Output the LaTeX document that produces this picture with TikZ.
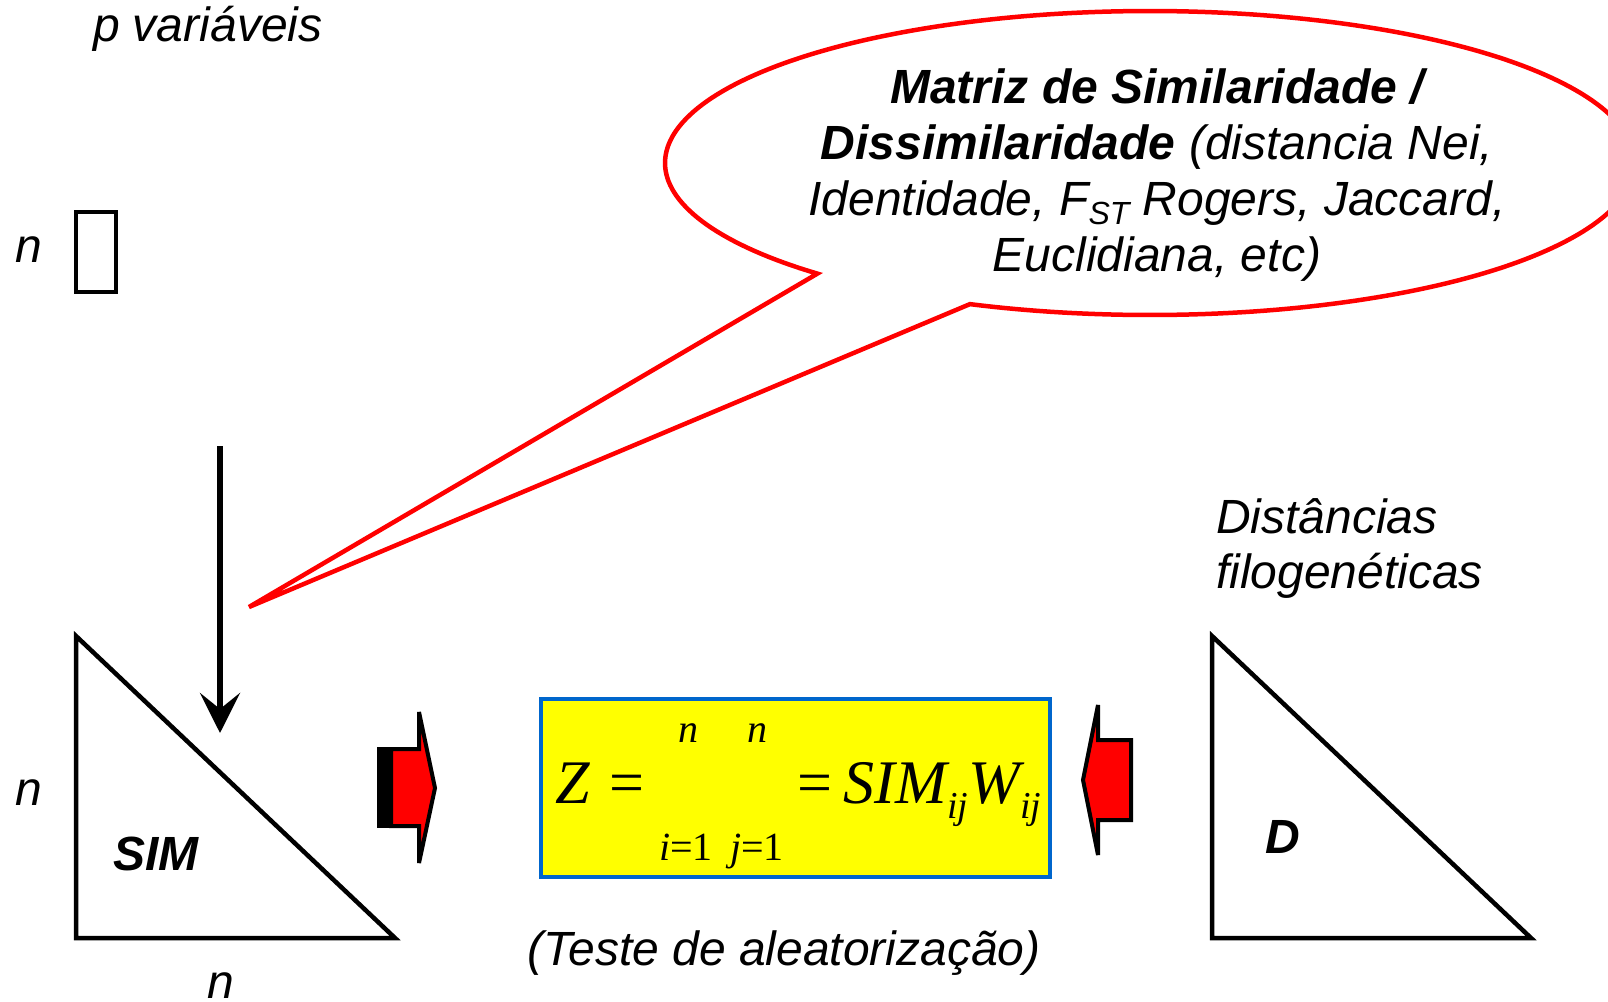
\documentclass[tikz,border=0pt]{standalone}
\usepackage{fontspec}
\setmainfont{Liberation Sans}
\newfontfamily\tms{Liberation Serif}
\usetikzlibrary{arrows.meta}
\definecolor{cred}{RGB}{255,0,0}
\definecolor{cblue}{RGB}{0,102,204}
\definecolor{cyel}{RGB}{255,255,0}
\begin{document}
\begin{tikzpicture}[x=1pt,y=-1pt,
  lbl/.style={inner sep=0pt, outer sep=0pt, font=\fontsize{48}{56}\selectfont\itshape},
  fml/.style={inner sep=0pt, outer sep=0pt, font=\tms\fontsize{62}{62}\selectfont},
  lim/.style={inner sep=0pt, outer sep=0pt, font=\tms\fontsize{40}{40}\selectfont},
  tri/.style={draw=black, line width=4.5pt, line join=miter},
  blockarrow/.style={fill=cred, draw=black, line width=4pt, line join=miter, miter limit=1.5},
  callout/.style={draw=cred, line width=4.5pt, fill=white, line join=miter}]
\useasboundingbox (0,0) rectangle (1608,1001);
\clip (0,0) rectangle (1608,1001);

% top-left labels and small rectangle
\node[lbl, anchor=base west] (pvar) at (93,41) {p variáveis};
\node[lbl, anchor=base west] (ntop) at (16,262) {n};
\draw[line width=4pt] (76,212) rectangle (116,292);

% SIM triangle
\draw[tri] (76,636) -- (76,938) -- (395,938) -- cycle;
\node[lbl, anchor=base west, font=\fontsize{48}{56}\selectfont\bfseries\itshape] (sim) at (113,870) {SIM};
\node[lbl, anchor=base west] (nleft) at (16,805) {n};
\node[lbl, anchor=base west] (nbot) at (207,998) {n};

% down arrow
\coordinate (arrS) at (220,446);
\coordinate (arrE) at (220,733);
\draw[line width=6pt, -{Stealth[length=40pt, width=40pt, inset=16pt]}] (arrS) -- (arrE);

% callout
\coordinate (tip) at (249,607);
\draw[callout] plot[domain=133.3:471.8, samples=240, variable=\t]
  ({1150+485*cos(\t)}, {163+152*sin(\t)}) -- (tip) -- cycle;
\node[lbl, anchor=base] (c1) at (1157,103) {\textbf{Matriz de Similaridade /}};
\node[lbl, anchor=base] (c2) at (1157,159) {\textbf{Dissimilaridade} (distancia Nei,};
\node[lbl, anchor=base] (c3) at (1157,215) {Identidade, F\raisebox{-9pt}{\fontsize{32}{32}\selectfont ST} Rogers, Jaccard,};
\node[lbl, anchor=base] (c4) at (1157,271) {Euclidiana, etc)};

% left block arrow
\fill[black] (377,747) rectangle (394,828);
\draw[blockarrow] (391,749) -- (419,749) -- (419,712) -- (435,788) -- (419,863) -- (419,826) -- (391,826) -- cycle;

% formula box
\draw[fill=cyel, draw=cblue, line width=4pt] (541,699) rectangle (1050,877);
\node[fml, anchor=base west] (zeq) at (555,803) {\itshape Z\hspace{20pt}\upshape=};
\node[lim, anchor=base] (n1) at (688,742) {\itshape n};
\node[lim, anchor=base] (n2) at (757,742) {\itshape n};
\node[lim, anchor=base] (i1) at (686,860) {\itshape i\upshape =1};
\node[lim, anchor=base] (j1) at (757,860) {\itshape j\upshape =1};
\node[fml, anchor=base west] (rhs) at (797,803) {=\hspace{12pt}\itshape SIM\raisebox{-15pt}{\fontsize{38}{38}\selectfont ij}W\raisebox{-15pt}{\fontsize{38}{38}\selectfont ij}};

% random test label
\node[lbl, anchor=base] (teste) at (784,965) {(Teste de aleatorização)};

% right block arrow
\draw[blockarrow] (1131,740) -- (1098,740) -- (1098,705) -- (1083,780) -- (1098,855) -- (1098,820) -- (1131,820) -- cycle;

% D triangle
\draw[tri] (1212,636) -- (1212,938) -- (1531,938) -- cycle;
\node[lbl, anchor=base west, font=\fontsize{48}{56}\selectfont\bfseries\itshape] (dlab) at (1265,853) {D};
\node[lbl, anchor=base west] (dist1) at (1216,533) {Distâncias};
\node[lbl, anchor=base west] (dist2) at (1216,588) {filogenéticas};
\end{tikzpicture}
\end{document}
